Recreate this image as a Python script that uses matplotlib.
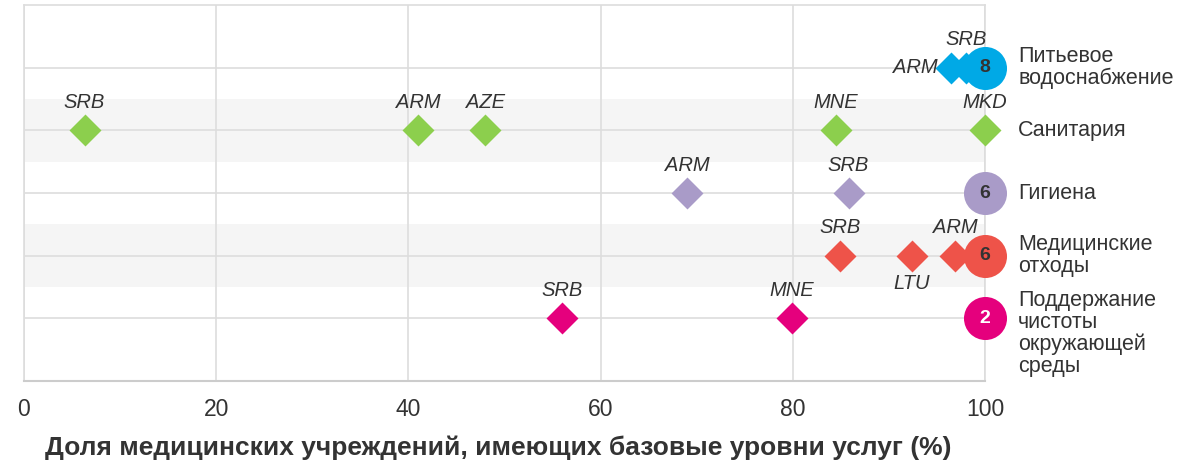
import matplotlib
matplotlib.use("Agg")
import matplotlib.pyplot as plt
from matplotlib.transforms import blended_transform_factory

categories = ["Питьевое\nводоснабжение", "Санитария", "Гигиена",
              "Медицинские\nотходы", "Поддержание\nчистоты\nокружающей\nсреды"]
colors = ["#00A9E6", "#8CCF4D", "#A99BC8", "#EE5349", "#E5007D"]

# per-category points: (value, label, label position)
water_vals = [96.5, 98.0]
water_labels = ["ARM", "SRB"]
water_pos = ["left", "above"]
sanit_vals = [6.3, 41.0, 48.0, 84.5, 100.0]
sanit_labels = ["SRB", "ARM", "AZE", "MNE", "MKD"]
sanit_pos = ["above", "above", "above", "above", "above"]
hyg_vals = [69.0, 85.8]
hyg_labels = ["ARM", "SRB"]
hyg_pos = ["above", "above"]
waste_vals = [84.9, 92.4, 96.9]
waste_labels = ["SRB", "LTU", "ARM"]
waste_pos = ["above", "below", "above"]
env_vals = [56.0, 79.9]
env_labels = ["SRB", "MNE"]
env_pos = ["above", "above"]

# bubbles at 100 with count of countries at 100%
bubble_counts = [8, None, 6, 6, 2]
bubble_text_colors = ["#333333", None, "#333333", "#333333", "white"]

xticks = [0, 20, 40, 60, 80, 100]
xlabel = "Доля медицинских учреждений, имеющих базовые уровни услуг (%)"

series = [(water_vals, water_labels, water_pos),
          (sanit_vals, sanit_labels, sanit_pos),
          (hyg_vals, hyg_labels, hyg_pos),
          (waste_vals, waste_labels, waste_pos),
          (env_vals, env_labels, env_pos)]

plt.rcParams['font.family'] = ['Liberation Sans', 'DejaVu Sans']

fig = plt.figure(figsize=(11.99, 4.65), dpi=100)
ax = fig.add_axes([24/1199, 1-381/465, (985-24)/1199, (381-5)/465])
ax.set_xlim(0, 100)
ax.set_ylim(0, 6)

n = len(categories)
ypos = [n - i for i in range(n)]

# shaded bands
for i, y in enumerate(ypos):
    if i % 2 == 1:
        ax.axhspan(y - 0.5, y + 0.5, color="#F5F5F5", zorder=0, lw=0)
    ax.axhline(y, color="#DDDDDD", lw=1.2, zorder=1)
for xt in xticks:
    ax.axvline(xt, color="#DDDDDD", lw=1.2, zorder=1)

for sp in ["top", "left", "right"]:
    ax.spines[sp].set_color("#DDDDDD")
    ax.spines[sp].set_linewidth(1.2)
ax.spines["bottom"].set_color("#CCCCCC")
ax.spines["bottom"].set_linewidth(1.5)

lab_kw = dict(textcoords="offset points", fontsize=14.5, style="italic", color="#333333")
right_tr = blended_transform_factory(fig.transFigure, ax.transData)

for i, (vals, labs, poss) in enumerate(series):
    y = ypos[i]
    c = colors[i]
    ax.scatter(vals, [y] * len(vals), marker="D", s=265, color=c, zorder=3, lw=0, clip_on=False)
    for v, lab, p in zip(vals, labs, poss):
        if p == "above":
            ax.annotate(lab, (v, y), xytext=(0, 16), ha="center", va="baseline", **lab_kw)
        elif p == "below":
            ax.annotate(lab, (v, y), xytext=(0, -13), ha="center", va="top", **lab_kw)
        elif p == "left":
            ax.annotate(lab, (v, y), xytext=(-10, 0), ha="right", va="center", **lab_kw)
    cnt = bubble_counts[i]
    if cnt is not None:
        ax.scatter([100], [y], marker="o", s=960, color=c, zorder=4, lw=0, clip_on=False)
        ax.text(100, y, str(cnt), ha="center", va="center", fontsize=14, fontweight="bold",
                color=bubble_text_colors[i], zorder=5)
    ty = y - 0.24 if i == n - 1 else y
    ax.text(1018/1199, ty, categories[i], transform=right_tr, fontsize=15.5,
            color="#333333", va="center", ha="left", linespacing=1.05)

ax.set_xticks(xticks)
ax.set_xticklabels([str(x) for x in xticks], fontsize=16.5, color="#333333")
ax.tick_params(axis="x", length=0, pad=12)
ax.set_yticks([])
ax.set_xlabel(xlabel, fontsize=19, fontweight="bold", color="#333333")
ax.xaxis.set_label_coords(21/961, -0.178)
ax.xaxis.label.set_ha("left")
ax.xaxis.label.set_va("center")

fig.savefig("out.png", dpi=100)
